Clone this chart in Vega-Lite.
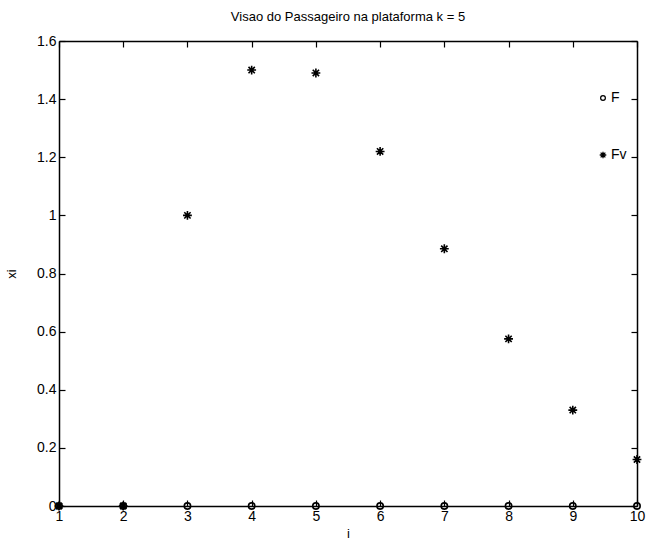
{
  "$schema": "https://vega.github.io/schema/vega-lite/v6.json",
  "width": 578,
  "height": 465,
  "autosize": {"type": "none"},
  "padding": {"left": 59, "top": 41, "right": 13, "bottom": 40},
  "background": "white",
  "title": {
    "text": "Visao do Passageiro na plataforma k = 5",
    "font": "Liberation Sans",
    "fontSize": 13,
    "fontWeight": "normal",
    "color": "black",
    "offset": 10
  },
  "config": {
    "view": {"stroke": null},
    "axis": {
      "labelFont": "Liberation Sans",
      "labelFontSize": 14,
      "labelColor": "black",
      "titleFont": "Liberation Sans",
      "titleFontSize": 13,
      "titleFontWeight": "normal",
      "titleColor": "black",
      "domainColor": "black",
      "domainWidth": 1.5,
      "tickColor": "black",
      "tickWidth": 1.2,
      "grid": false,
      "format": ".1~f"
    }
  },
  "data": {
    "values": [
      {"i": 1, "v": 0, "s": "F"},
      {"i": 2, "v": 0, "s": "F"},
      {"i": 3, "v": 0, "s": "F"},
      {"i": 4, "v": 0, "s": "F"},
      {"i": 5, "v": 0, "s": "F"},
      {"i": 6, "v": 0, "s": "F"},
      {"i": 7, "v": 0, "s": "F"},
      {"i": 8, "v": 0, "s": "F"},
      {"i": 9, "v": 0, "s": "F"},
      {"i": 10, "v": 0, "s": "F"},
      {"i": 1, "v": 0, "s": "Fv"},
      {"i": 2, "v": 0, "s": "Fv"},
      {"i": 3, "v": 1.0, "s": "Fv"},
      {"i": 4, "v": 1.5, "s": "Fv"},
      {"i": 5, "v": 1.49, "s": "Fv"},
      {"i": 6, "v": 1.22, "s": "Fv"},
      {"i": 7, "v": 0.885, "s": "Fv"},
      {"i": 8, "v": 0.575, "s": "Fv"},
      {"i": 9, "v": 0.33, "s": "Fv"},
      {"i": 10, "v": 0.16, "s": "Fv"}
    ]
  },
  "resolve": {"axis": {"x": "independent", "y": "independent"}},
  "layer": [
    {
      "mark": {"type": "point", "clip": false, "strokeWidth": 1.6, "filled": false, "color": "black", "opacity": 1, "size": 40},
      "encoding": {
        "x": {
          "field": "i", "type": "quantitative",
          "scale": {"domain": [1, 10], "nice": false, "zero": false},
          "axis": {"title": "i", "values": [1,2,3,4,5,6,7,8,9,10], "tickSize": -6, "labelPadding": 9, "titlePadding": 4, "labelFlush": false}
        },
        "y": {
          "field": "v", "type": "quantitative",
          "scale": {"domain": [0, 1.6], "nice": false},
          "axis": {"title": "xi", "values": [0,0.2,0.4,0.6,0.8,1,1.2,1.4,1.6], "tickSize": -6, "labelPadding": 9, "titlePadding": 18, "labelFlush": false}
        },
        "shape": {
          "field": "s", "type": "nominal",
          "scale": {
            "domain": ["F", "Fv"],
            "range": ["circle", "M-1.4,0L1.4,0M0,-1.4L0,1.4M-1,-1L1,1M-1,1L1,-1"]
          },
          "legend": {
            "orient": "none",
            "legendX": 537,
            "legendY": 50,
            "title": null,
            "labelFont": "Liberation Sans",
            "labelFontSize": 14,
            "labelColor": "black",
            "symbolStrokeColor": "black",
            "symbolStrokeWidth": 1.3,
            "symbolSize": 22,
            "symbolFillColor": "transparent",
            "rowPadding": 43,
            "labelOffset": 1
          }
        }
      }
    },
    {
      "mark": {"type": "point", "opacity": 0, "clip": false},
      "encoding": {
        "x": {
          "field": "i", "type": "quantitative",
          "scale": {"domain": [1, 10], "nice": false, "zero": false},
          "axis": {"orient": "top", "title": null, "labels": false, "values": [1,2,3,4,5,6,7,8,9,10], "tickSize": -6}
        },
        "y": {
          "field": "v", "type": "quantitative",
          "scale": {"domain": [0, 1.6], "nice": false},
          "axis": {"orient": "right", "title": null, "labels": false, "values": [0,0.2,0.4,0.6,0.8,1,1.2,1.4,1.6], "tickSize": -6}
        }
      }
    }
  ]
}
